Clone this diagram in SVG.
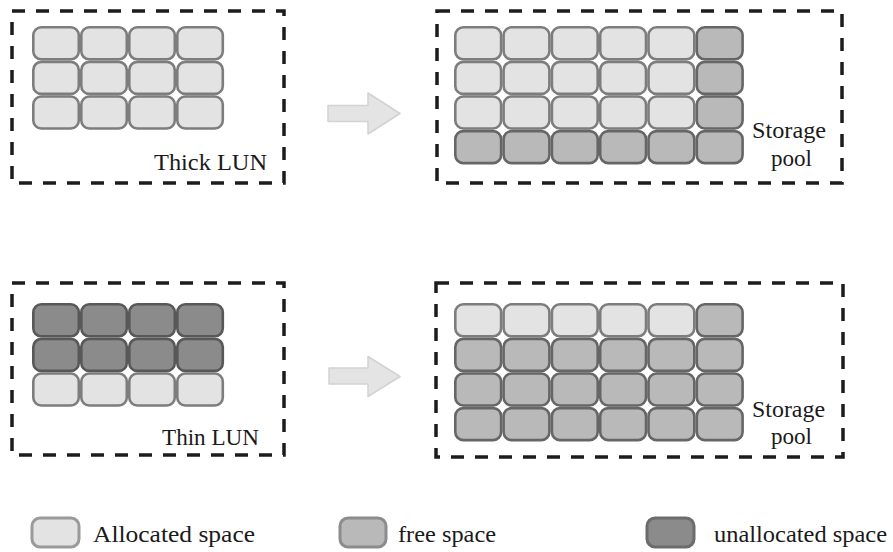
<svg xmlns="http://www.w3.org/2000/svg" width="893" height="552" viewBox="0 0 893 552">
<style>
.box{fill:none;stroke:#1c1c1c;stroke-width:3.5;stroke-dasharray:13 11}
.a{fill:#e3e3e3;stroke:#7d7d7d;stroke-width:2.6}
.f{fill:#b9b9b9;stroke:#666666;stroke-width:2.6}
.u{fill:#8b8b8b;stroke:#585858;stroke-width:2.6}
text{font-family:"Times New Roman","Liberation Serif","Noto Serif","DejaVu Serif",Times,serif;font-size:24px;fill:#1a1a1a}
.arrow{fill:#e4e4e4;stroke:#d2d2d2;stroke-width:1.5;stroke-linejoin:round}
</style>
<defs>
<rect id="c" width="45.5" height="32" rx="8"/>
<rect id="cr" width="45.8" height="32" rx="8"/>
</defs>
<rect width="893" height="552" fill="#fff"/>

<g id="thick-lun">
<rect class="box" x="12" y="11" width="272" height="172"/>
<use href="#c" class="a" x="33.3" y="27.3"/><use href="#c" class="a" x="81.3" y="27.3"/><use href="#c" class="a" x="129.3" y="27.3"/><use href="#c" class="a" x="177.3" y="27.3"/>
<use href="#c" class="a" x="33.3" y="61.9"/><use href="#c" class="a" x="81.3" y="61.9"/><use href="#c" class="a" x="129.3" y="61.9"/><use href="#c" class="a" x="177.3" y="61.9"/>
<use href="#c" class="a" x="33.3" y="96.5"/><use href="#c" class="a" x="81.3" y="96.5"/><use href="#c" class="a" x="129.3" y="96.5"/><use href="#c" class="a" x="177.3" y="96.5"/>
<text x="154" y="170" textLength="113" lengthAdjust="spacingAndGlyphs">Thick LUN</text>
</g>

<g id="storage-pool-thick">
<rect class="box" x="437" y="11" width="405" height="172"/>
<use href="#cr" class="a" x="455.3" y="27.3"/><use href="#cr" class="a" x="503.6" y="27.3"/><use href="#cr" class="a" x="551.9" y="27.3"/><use href="#cr" class="a" x="600.2" y="27.3"/><use href="#cr" class="a" x="648.5" y="27.3"/><use href="#cr" class="f" x="696.8" y="27.3"/>
<use href="#cr" class="a" x="455.3" y="61.9"/><use href="#cr" class="a" x="503.6" y="61.9"/><use href="#cr" class="a" x="551.9" y="61.9"/><use href="#cr" class="a" x="600.2" y="61.9"/><use href="#cr" class="a" x="648.5" y="61.9"/><use href="#cr" class="f" x="696.8" y="61.9"/>
<use href="#cr" class="a" x="455.3" y="96.5"/><use href="#cr" class="a" x="503.6" y="96.5"/><use href="#cr" class="a" x="551.9" y="96.5"/><use href="#cr" class="a" x="600.2" y="96.5"/><use href="#cr" class="a" x="648.5" y="96.5"/><use href="#cr" class="f" x="696.8" y="96.5"/>
<use href="#cr" class="f" x="455.3" y="131.1"/><use href="#cr" class="f" x="503.6" y="131.1"/><use href="#cr" class="f" x="551.9" y="131.1"/><use href="#cr" class="f" x="600.2" y="131.1"/><use href="#cr" class="f" x="648.5" y="131.1"/><use href="#cr" class="f" x="696.8" y="131.1"/>
<text x="752" y="138" textLength="74" lengthAdjust="spacingAndGlyphs">Storage</text>
<text x="771" y="166" textLength="41" lengthAdjust="spacingAndGlyphs">pool</text>
</g>

<g id="thin-lun">
<rect class="box" x="12" y="283" width="272" height="172"/>
<use href="#c" class="u" x="33.3" y="304.3"/><use href="#c" class="u" x="81.3" y="304.3"/><use href="#c" class="u" x="129.3" y="304.3"/><use href="#c" class="u" x="177.3" y="304.3"/>
<use href="#c" class="u" x="33.3" y="338.9"/><use href="#c" class="u" x="81.3" y="338.9"/><use href="#c" class="u" x="129.3" y="338.9"/><use href="#c" class="u" x="177.3" y="338.9"/>
<use href="#c" class="a" x="33.3" y="373.5"/><use href="#c" class="a" x="81.3" y="373.5"/><use href="#c" class="a" x="129.3" y="373.5"/><use href="#c" class="a" x="177.3" y="373.5"/>
<text x="162" y="445" textLength="97" lengthAdjust="spacingAndGlyphs">Thin LUN</text>
</g>

<g id="storage-pool-thin">
<rect class="box" x="436" y="283" width="407" height="174"/>
<use href="#cr" class="a" x="455.3" y="304.3"/><use href="#cr" class="a" x="503.6" y="304.3"/><use href="#cr" class="a" x="551.9" y="304.3"/><use href="#cr" class="a" x="600.2" y="304.3"/><use href="#cr" class="a" x="648.5" y="304.3"/><use href="#cr" class="f" x="696.8" y="304.3"/>
<use href="#cr" class="f" x="455.3" y="338.9"/><use href="#cr" class="f" x="503.6" y="338.9"/><use href="#cr" class="f" x="551.9" y="338.9"/><use href="#cr" class="f" x="600.2" y="338.9"/><use href="#cr" class="f" x="648.5" y="338.9"/><use href="#cr" class="f" x="696.8" y="338.9"/>
<use href="#cr" class="f" x="455.3" y="373.5"/><use href="#cr" class="f" x="503.6" y="373.5"/><use href="#cr" class="f" x="551.9" y="373.5"/><use href="#cr" class="f" x="600.2" y="373.5"/><use href="#cr" class="f" x="648.5" y="373.5"/><use href="#cr" class="f" x="696.8" y="373.5"/>
<use href="#cr" class="f" x="455.3" y="408.1"/><use href="#cr" class="f" x="503.6" y="408.1"/><use href="#cr" class="f" x="551.9" y="408.1"/><use href="#cr" class="f" x="600.2" y="408.1"/><use href="#cr" class="f" x="648.5" y="408.1"/><use href="#cr" class="f" x="696.8" y="408.1"/>
<text x="752" y="417" textLength="73" lengthAdjust="spacingAndGlyphs">Storage</text>
<text x="771" y="444" textLength="41" lengthAdjust="spacingAndGlyphs">pool</text>
</g>

<g id="connectors">
<path class="arrow" d="M328,105.5 H368 V93 L400,113.5 L368,134 V121.5 H328 Z"/>
<path class="arrow" d="M329,368 H368 V356.5 L400,376.5 L368,396.5 V384 H329 Z"/>
</g>

<g id="legend-allocated">
<rect class="a" x="32" y="518" width="47" height="29" rx="8" style="stroke:#9a9a9a;stroke-width:3"/>
<text x="93" y="542" textLength="162" lengthAdjust="spacingAndGlyphs">Allocated space</text>
</g>
<g id="legend-free">
<rect class="f" x="340" y="518" width="46" height="29" rx="8" style="stroke:#8c8c8c;stroke-width:3"/>
<text x="398" y="542" textLength="98" lengthAdjust="spacingAndGlyphs">free space</text>
</g>
<g id="legend-unallocated">
<rect class="u" x="647" y="518" width="47" height="29" rx="8" style="stroke:#6c6c6c;stroke-width:3"/>
<text x="714" y="542" textLength="173" lengthAdjust="spacingAndGlyphs">unallocated space</text>
</g>
</svg>
